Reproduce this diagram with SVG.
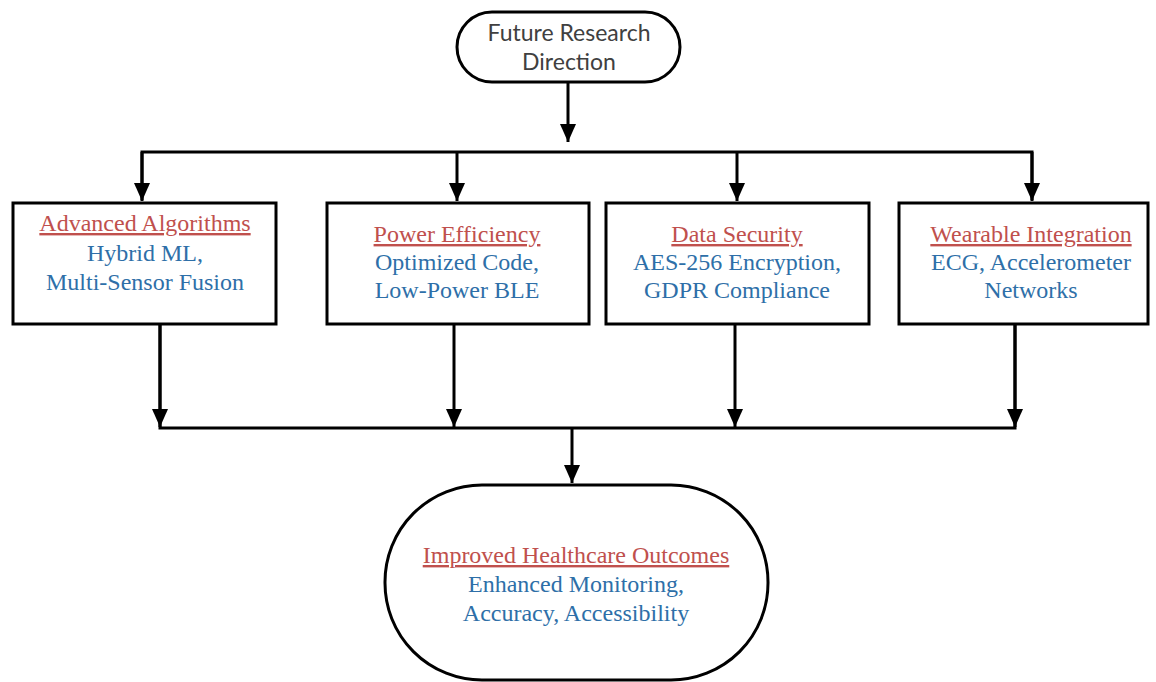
<svg xmlns="http://www.w3.org/2000/svg" width="1156" height="682" viewBox="0 0 1156 682">
<style>
.box{fill:#fff;stroke:#000;stroke-width:3}
.ln{fill:none;stroke:#000;stroke-width:3}
.t{font-family:"Liberation Serif","Times New Roman",serif;font-size:24px;text-anchor:middle}
.h{fill:#c0504d;text-decoration:underline}
.b{fill:#2e6fa8}
.top{font-family:Lato,"Liberation Sans",sans-serif;font-size:23px;fill:#404040;text-anchor:middle}
</style>
<defs>
<marker id="ad" markerUnits="userSpaceOnUse" markerWidth="16" markerHeight="18" viewBox="0 0 16 18" refX="8" refY="18" orient="0">
<path d="M0,0 L16,0 L8,18 Z" fill="#000"/>
</marker>
</defs>
<g id="connectors">
<path class="ln" d="M568,82 V142" marker-end="url(#ad)"/>
<path class="ln" d="M142,200 V152 H1032 V200"/>
<path class="ln" d="M142,152 V201" marker-end="url(#ad)"/>
<path class="ln" d="M457,152 V201" marker-end="url(#ad)"/>
<path class="ln" d="M737,152 V201" marker-end="url(#ad)"/>
<path class="ln" d="M1032,152 V201" marker-end="url(#ad)"/>
<path class="ln" d="M160,324 V428 H1015 V324"/>
<path class="ln" d="M160,324 V427" marker-end="url(#ad)"/>
<path class="ln" d="M454,324 V427" marker-end="url(#ad)"/>
<path class="ln" d="M735,324 V427" marker-end="url(#ad)"/>
<path class="ln" d="M1015,324 V427" marker-end="url(#ad)"/>
<path class="ln" d="M572,428 V483" marker-end="url(#ad)"/>
</g>
<g id="future">
<rect x="457" y="12" width="223" height="70" rx="35" class="box" stroke-width="2.5"/>
<text class="top" x="569" y="41">Future Research</text>
<text class="top" x="569" y="70">Direction</text>
</g>
<g id="algorithms">
<rect x="13" y="203" width="263" height="121" class="box"/>
<text class="t h" x="145" y="231">Advanced Algorithms</text>
<text class="t b" x="145" y="261">Hybrid ML,</text>
<text class="t b" x="145" y="290">Multi-Sensor Fusion</text>
</g>
<g id="power">
<rect x="327" y="203" width="262" height="121" class="box"/>
<text class="t h" x="457" y="242">Power Efficiency</text>
<text class="t b" x="457" y="270">Optimized Code,</text>
<text class="t b" x="457" y="298">Low-Power BLE</text>
</g>
<g id="security">
<rect x="606" y="203" width="263" height="121" class="box"/>
<text class="t h" x="737" y="242">Data Security</text>
<text class="t b" x="737" y="270">AES-256 Encryption,</text>
<text class="t b" x="737" y="298">GDPR Compliance</text>
</g>
<g id="wearable">
<rect x="899" y="203" width="249" height="121" class="box"/>
<text class="t h" x="1031" y="242">Wearable Integration</text>
<text class="t b" x="1031" y="270">ECG, Accelerometer</text>
<text class="t b" x="1031" y="298">Networks</text>
</g>
<g id="outcomes">
<rect x="385" y="485" width="383" height="195" rx="97" class="box"/>
<text class="t h" x="576" y="563">Improved Healthcare Outcomes</text>
<text class="t b" x="576" y="592">Enhanced Monitoring,</text>
<text class="t b" x="576" y="621">Accuracy, Accessibility</text>
</g>
</svg>
